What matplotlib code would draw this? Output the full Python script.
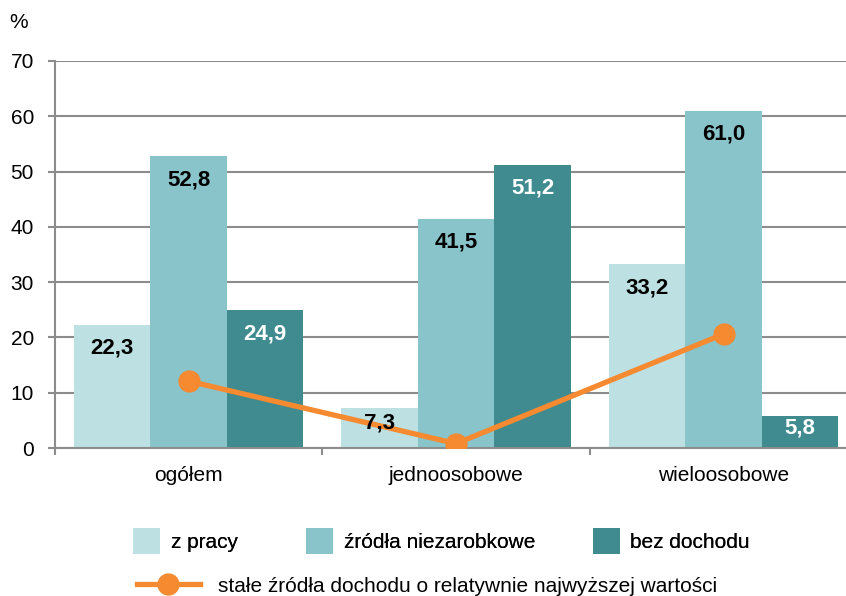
import matplotlib.pyplot as plt
from matplotlib.patches import Patch
from matplotlib.lines import Line2D
import numpy as np

plt.rcParams['font.family'] = ['Liberation Sans', 'DejaVu Sans']

categories = ['ogółem', 'jednoosobowe', 'wieloosobowe']
z_pracy = [22.3, 7.3, 33.2]
zrodla_niezarobkowe = [52.8, 41.5, 61.0]
bez_dochodu = [24.9, 51.2, 5.8]
stale_zrodla = [12.1, 0.8, 20.6]

series_names = ['z pracy', 'źródła niezarobkowe', 'bez dochodu']
line_name = 'stałe źródła dochodu o relatywnie najwyższej wartości'
colors = ['#bde0e2', '#89c4cb', '#3f8b8f']
label_colors = ['black', 'black', 'white']
orange = '#f58a30'
grid_gray = '#8c8c8c'
fs = 15

fig = plt.figure(figsize=(8.46, 5.96), dpi=100)
ax = fig.add_axes([54.75 / 846, 148 / 596, 802.5 / 846, 387 / 596])

x = np.arange(len(categories))
w = 0.286
series = [z_pracy, zrodla_niezarobkowe, bez_dochodu]
for i, (vals, col, lc) in enumerate(zip(series, colors, label_colors)):
    pos = x + (i - 1) * w
    ax.bar(pos, vals, width=w, color=col, zorder=2)
    for px, v in zip(pos, vals):
        # value inside the bar near its top, lower for the short bars
        ly = v - 4.25 if v > 10 else v * 0.62
        ax.text(px, ly, f'{v:.1f}'.replace('.', ','), ha='center', va='center',
                fontsize=16, fontweight='bold', color=lc, zorder=5)

ax.plot(x, stale_zrodla, color=orange, lw=3.8, marker='o', markersize=15,
        zorder=4)

ax.set_xlim(-0.5, 2.5)
ax.set_ylim(0, 70)
ax.set_yticks(range(0, 71, 10))
ax.set_xticks(x)
ax.set_xticklabels(categories, fontsize=fs)
ax.set_xticks([-0.5, 0.5, 1.5, 2.5], minor=True)
ax.tick_params(axis='x', which='major', length=0, pad=13)
ax.tick_params(axis='x', which='minor', length=5, width=1.5, color=grid_gray, direction='out')
ax.tick_params(axis='y', length=5, width=1.5, color=grid_gray, labelsize=fs, pad=10)

ax.grid(axis='y', color=grid_gray, lw=1.5, zorder=1)
ax.set_axisbelow(True)
for s in ['top', 'right']:
    ax.spines[s].set_visible(False)
for s in ['left', 'bottom']:
    ax.spines[s].set_color(grid_gray)
    ax.spines[s].set_linewidth(1.5)

fig.text(19 / 846, 1 - 23 / 596, '%', fontsize=fs, ha='center', va='center')

# legend: three boxes in a row, the line entry below
box_x = [133, 306, 593]
for name, col, bx in zip(series_names, colors, box_x):
    lg = fig.legend([Patch(facecolor=col, edgecolor='none')], [name],
                    loc='center left', bbox_to_anchor=(bx / 846, 1 - 541 / 596),
                    frameon=False, fontsize=fs, handlelength=1.3, handleheight=1.55,
                    handletextpad=0.5, borderpad=0, borderaxespad=0)
    fig.add_artist(lg)

line_handle = Line2D([], [], color=orange, lw=3.8, marker='o', markersize=15)
fig.legend([line_handle], [line_name], loc='center left',
           bbox_to_anchor=(137 / 846, 1 - 586 / 596), frameon=False, fontsize=fs,
           handlelength=3.0, handletextpad=0.9, borderpad=0, borderaxespad=0)

fig.savefig('out.png', dpi=100)
